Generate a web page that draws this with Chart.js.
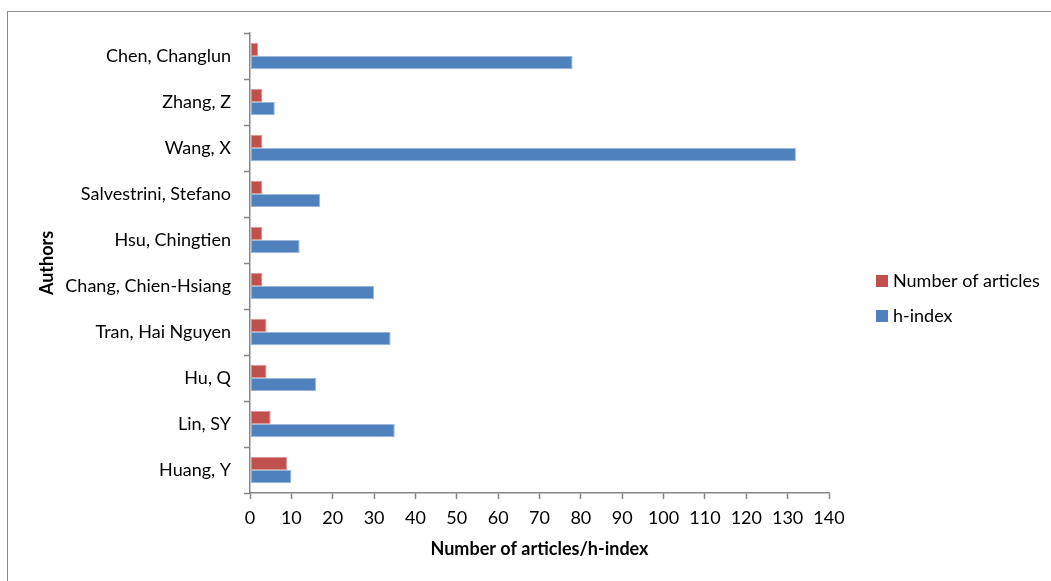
<!DOCTYPE html>
<html>
<head>
<meta charset="utf-8">
<script src="https://cdn.jsdelivr.net/npm/chart.js@4.4.1/dist/chart.umd.min.js"></script>
<style>
  html, body { margin: 0; padding: 0; background: #fff; }
  #wrap { position: relative; width: 1051px; height: 581px; overflow: hidden; }
  #frame { position: absolute; left: 7px; top: 11px; width: 1100px; height: 640px;
           border: 1px solid #8c8c8c; box-sizing: border-box; }
  #myChart { position: absolute; left: 0; top: 0; }
</style>
</head>
<body>
<div id="wrap">
  <div id="frame"></div>
  <canvas id="myChart" width="1051" height="581"></canvas>
</div>
<script>
      // authors, top to bottom
      const authors = [
        "Chen, Changlun",
        "Zhang, Z",
        "Wang, X",
        "Salvestrini, Stefano",
        "Hsu, Chingtien",
        "Chang, Chien-Hsiang",
        "Tran, Hai Nguyen",
        "Hu, Q",
        "Lin, SY",
        "Huang, Y"
      ];
      const articles = [2, 3, 3, 3, 3, 3, 4, 4, 5, 9];
      const hIndex = [78, 6, 132, 17, 12, 30, 34, 16, 35, 10];
      const seriesNames = ["Number of articles", "h-index"];
      const xTicksMax = 140;
      const xTicksStep = 10;

      const fontFamily = "Lato, 'Open Sans', sans-serif";
      const axisGray = "#868686";

      // legend drawn by hand on the right side of the canvas
      const sideLegend = {
        id: "sideLegend",
        afterDraw(chart) {
          const ctx = chart.ctx;
          const rows = [281, 316];
          ctx.save();
          ctx.font = "18px " + fontFamily;
          ctx.textBaseline = "middle";
          ctx.textAlign = "left";
          chart.data.datasets.forEach((ds, i) => {
            ctx.fillStyle = ds.backgroundColor;
            ctx.fillRect(876, rows[i] - 6, 12, 12);
            ctx.fillStyle = "#000";
            ctx.fillText(ds.label, 893, rows[i]);
          });
          ctx.restore();
        }
      };

      const ctx = document.getElementById("myChart").getContext("2d");
      const myChart = new Chart(ctx, {
        type: "bar",
        data: {
          labels: authors,
          datasets: [
            {
              label: seriesNames[0],
              data: articles,
              backgroundColor: "#C0504D",
              borderColor: "#d99a98",
              borderWidth: 1,
              borderSkipped: false
            },
            {
              label: seriesNames[1],
              data: hIndex,
              backgroundColor: "#4F81BD",
              borderColor: "#9ab6da",
              borderWidth: 1,
              borderSkipped: false
            }
          ]
        },
        plugins: [sideLegend],
        options: {
          indexAxis: "y",
          responsive: false,
          animation: false,
          categoryPercentage: 0.58,
          barPercentage: 1,
          layout: { padding: { top: 33, right: 222, left: 0, bottom: 0 } },
          plugins: {
            legend: { display: false },
            tooltip: { enabled: false }
          },
          scales: {
            x: {
              min: 0,
              max: xTicksMax,
              afterFit(scale) { scale.height = 88; },
              ticks: {
                stepSize: xTicksStep,
                color: "#000",
                padding: 8,
                font: { family: fontFamily, size: 18 }
              },
              grid: {
                drawOnChartArea: false,
                drawTicks: true,
                tickLength: 6,
                tickWidth: 1.5,
                tickColor: axisGray
              },
              border: { color: axisGray, width: 1.5 },
              title: {
                display: true,
                text: "Number of articles/h-index",
                color: "#000",
                font: { family: fontFamily, size: 18, weight: "bold" },
                padding: { top: 0, bottom: 21 }
              }
            },
            y: {
              afterFit(scale) { scale.width = 250; },
              ticks: {
                color: "#000",
                padding: 13,
                font: { family: fontFamily, size: 18 }
              },
              grid: {
                offset: true,
                drawOnChartArea: false,
                drawTicks: true,
                tickLength: 6,
                tickWidth: 1.5,
                tickColor: axisGray
              },
              border: { color: axisGray, width: 1.5 },
              title: {
                display: true,
                text: "Authors",
                color: "#000",
                font: { family: fontFamily, size: 18, weight: "bold" },
                padding: { top: 36, bottom: 0 }
              }
            }
          }
        }
      });
</script>
</body>
</html>
